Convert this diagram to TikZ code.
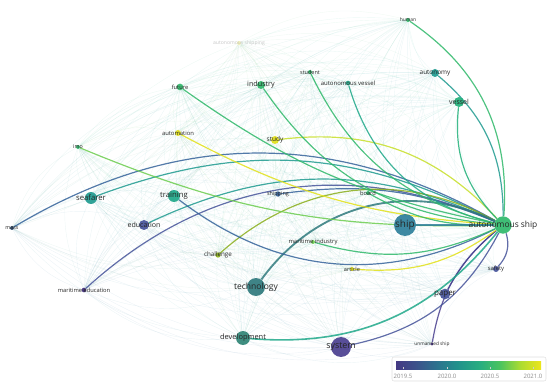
\documentclass[tikz,border=0pt]{standalone}
\usepackage{fontspec}
\setmainfont{Open Sans}
\usetikzlibrary{backgrounds}
\definecolor{cpurple}{HTML}{4A3F8F}
\definecolor{cdeep}{HTML}{3D2B77}
\definecolor{cindigo}{HTML}{46549A}
\definecolor{cblue}{HTML}{35639A}
\definecolor{cdarkblue}{HTML}{2A4A6E}
\definecolor{csteel}{HTML}{2D7F9A}
\definecolor{cslate}{HTML}{2F7A7D}
\definecolor{cslatetwo}{HTML}{2F8475}
\definecolor{cteal}{HTML}{1E9A8F}
\definecolor{ctealgreen}{HTML}{1FA889}
\definecolor{cseagreen}{HTML}{22B07A}
\definecolor{cgreen}{HTML}{2FB86A}
\definecolor{clgreen}{HTML}{6CCD4F}
\definecolor{colive}{HTML}{8AAE1C}
\definecolor{clime}{HTML}{C7DF2A}
\definecolor{cyellow}{HTML}{E2E11A}
\definecolor{cpale}{HTML}{EEEEB0}
\definecolor{meshc}{HTML}{8AD8E0}
% viridis 色条
\definecolor{vz}{HTML}{443983}
\definecolor{vo}{HTML}{3B528B}
\definecolor{vt}{HTML}{2C728E}
\definecolor{vh}{HTML}{21918C}
\definecolor{vf}{HTML}{28AE80}
\definecolor{vv}{HTML}{4CC45E}
\definecolor{vs}{HTML}{ADDC30}
\definecolor{ve}{HTML}{EDE51B}
\pgfdeclarehorizontalshading{viridis}{100bp}{color(0bp)=(vz); color(25bp)=(vz);
  color(32bp)=(vo); color(39bp)=(vt); color(46bp)=(vh); color(54bp)=(vf);
  color(61bp)=(vv); color(68bp)=(vs); color(75bp)=(ve); color(100bp)=(ve)}

\tikzset{
  kw/.style={circle, inner sep=0pt, draw=none, fill opacity=0.92},
  lab/.style={inner sep=0pt, text=black!85},
  link/.style={line width=0.9pt, opacity=0.85},
  mesh/.style={line width=0.3pt, opacity=0.12}
}

\begin{document}
\begin{tikzpicture}[x=0.75pt, y=0.75pt]
  \useasboundingbox (0,0) rectangle (550,386);

  % ===== 节点 =====
  \foreach \n/\x/\y/\d/\c in {
    human/408/366/3pt/cgreen, student/310/314/3pt/cgreen,
    avessel/348/303/3.5pt/ctealgreen, autonomy/435/313/6pt/cteal,
    vessel/459/284/7.5pt/cseagreen, future/180/299/5pt/cgreen,
    industry/261/301/6pt/cgreen, automation/178/253/4.5pt/cyellow,
    study/275/246/6pt/cyellow, imo/78/239/3pt/cgreen,
    seafarer/91/188/9pt/cteal, training/174/190/9pt/ctealgreen,
    shipping/278/192/4pt/cblue, board/368/193/3pt/cgreen,
    ship/405/161/16.5pt/csteel, autoship/503/161/13pt/cgreen,
    education/144/161/7.5pt/cindigo, mass/12/158/3pt/cdarkblue,
    challenge/218/131/4pt/colive, mindustry/313/144/3pt/clgreen,
    article/352/117/3pt/cyellow, safety/496/117/4.5pt/cindigo,
    paper/445/92/8pt/cindigo, medu/84/96/3.5pt/cdeep,
    technology/256/99/13.5pt/cslate, development/243/48/10.5pt/cslatetwo,
    system/341/39/15pt/cpurple, unmanned/432/42/2.5pt/cdeep,
    ashipping/239/343/3pt/cpale}
    \node[kw, minimum size=\d, fill=\c] (\n) at (\x,\y) {};

  % ===== 标签 =====
  \foreach \n/\t/\f in {
    human/human/3.7, student/student/4.1, avessel/autonomous vessel/4.5,
    autonomy/autonomy/4.8, vessel/vessel/5.2, future/future/4.3,
    industry/industry/5.4, automation/automation/4.4, study/study/4.9,
    imo/imo/4, seafarer/seafarer/5.8, training/training/5.8,
    shipping/shipping/4.1, board/board/4.3, ship/ship/7.5,
    autoship/autonomous ship/6.3, education/education/5.3, mass/mass/4,
    challenge/challenge/4.7, mindustry/maritime industry/4.4,
    article/article/4.2, safety/safety/4.4, paper/paper/6,
    medu/maritime education/4.3, technology/technology/6.4,
    development/development/5.6, system/system/6.7, unmanned/unmanned ship/3.6}
    \node[lab, font=\fontsize{\f}{\f}\selectfont] (\n-t) at (\n) {\t};
  \node[lab, text=gray!45, font=\fontsize{3.8}{3.8}\selectfont] (ashipping-t) at (ashipping) {autonomous shipping};

  \begin{pgfonlayer}{background}
    % 背景连线（颜色取两端的混合）
    \foreach \a/\ca [count=\i] in {human/cgreen,student/cgreen,avessel/cteal,autonomy/cteal,vessel/cseagreen,future/cgreen,industry/cgreen,automation/cyellow,study/cyellow,imo/clgreen,seafarer/cteal,training/cteal,shipping/cblue,board/cgreen,ship/csteel,autoship/cgreen,education/cindigo,mass/cdarkblue,challenge/colive,mindustry/clgreen,article/cyellow,safety/cindigo,paper/cindigo,medu/cdeep,technology/cslate,development/cslatetwo,system/cpurple,unmanned/cdeep,ashipping/cyellow} {
      \foreach \b/\cb [count=\j] in {human/cgreen,student/cgreen,avessel/cteal,autonomy/cteal,vessel/cseagreen,future/cgreen,industry/cgreen,automation/cyellow,study/cyellow,imo/clgreen,seafarer/cteal,training/cteal,shipping/cblue,board/cgreen,ship/csteel,autoship/cgreen,education/cindigo,mass/cdarkblue,challenge/colive,mindustry/clgreen,article/cyellow,safety/cindigo,paper/cindigo,medu/cdeep,technology/cslate,development/cslatetwo,system/cpurple,unmanned/cdeep,ashipping/cyellow} {
        \ifnum\j>\i \draw[mesh, draw=\ca!50!\cb!40!meshc] (\a) to[bend right=22] (\b); \fi
      }
    }

    % ===== autonomous ship 的连线 =====
    \foreach \b/\ang/\c in {human/30/cgreen, autonomy/25/cteal, study/27/clime,
      seafarer/24/cteal, mass/30/cblue, education/25/cteal, medu/33/cindigo,
      shipping/15/cblue, challenge/35/colive, paper/10/cindigo, unmanned/20/cpurple}
      \draw[link, draw=\c] (autoship) to[bend right=\ang] (\b);
    \draw[link, line width=1.4pt, draw=cslate] (autoship) to[bend right=40] (technology);
    \foreach \b/\ang/\c in {vessel/25/cseagreen, avessel/30/ctealgreen,
      student/25/cgreen, industry/25/cgreen, future/12/cgreen,
      automation/12/cyellow, imo/12/clgreen, training/32/cblue,
      board/15/cgreen, mindustry/20/cgreen, article/20/cyellow,
      system/25/cindigo, safety/30/cindigo}
      \draw[link, draw=\c] (autoship) to[bend left=\ang] (\b);
    \draw[link, line width=1.2pt, draw=ctealgreen] (autoship) to[bend left=28] (development);
    \draw[link, line width=2.2pt, draw=csteel] (autoship) -- (ship);
  \end{pgfonlayer}

  % ===== 色条 =====
  \draw[gray!25, fill=white, rounded corners=1.5pt] (392,5) rectangle (546,29);
  \shade[shading=viridis] (396,17) rectangle (541,25);
  \foreach \x/\l [count=\k] in {403/2019.5, 447/2020.0, 490/2020.5, 533/2021.0} {
    \draw[white!60!gray, line width=0.3pt] (\x,17) -- (\x,19);
    \node[font=\fontsize{4.5}{4.5}\selectfont, text=gray!90] (yr\k) at (\x,10) {\l};
  }
\end{tikzpicture}
\end{document}
